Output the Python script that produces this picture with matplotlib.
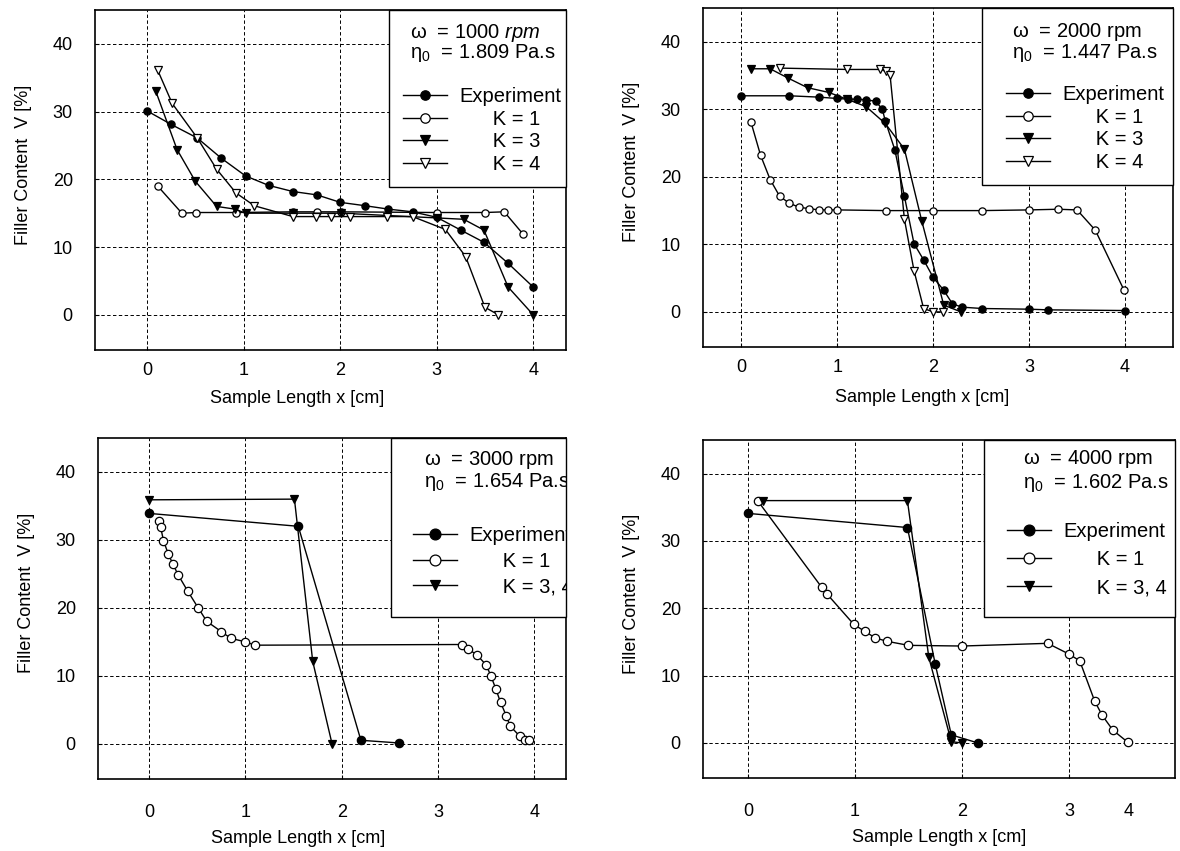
import matplotlib

matplotlib.use("Agg")
import matplotlib.pyplot as plt
from matplotlib.lines import Line2D
from matplotlib.patches import Rectangle

plt.rcParams["font.family"] = ["Liberation Sans", "DejaVu Sans"]
plt.rcParams["mathtext.fontset"] = "custom"
plt.rcParams["mathtext.rm"] = "Liberation Sans"
plt.rcParams["mathtext.it"] = "Liberation Sans:italic"

# ---- omega = 1000 rpm ----
exp_1000_x = [0, 0.25, 0.52, 0.77, 1.02, 1.26, 1.51, 1.76, 2.0, 2.26, 2.5, 2.75, 3.0, 3.25, 3.49, 3.74, 4.0]
exp_1000_y = [30.1, 28.1, 26.1, 23.1, 20.5, 19.1, 18.2, 17.7, 16.6, 16.1, 15.6, 15.2, 14.4, 12.5, 10.7, 7.6, 4.1]
k1_1000_x = [0.11, 0.36, 0.51, 0.92, 1.51, 1.76, 2.01, 3.0, 3.5, 3.7, 3.89]
k1_1000_y = [19.0, 15.0, 15.1, 15.1, 15.2, 15.2, 15.2, 15.1, 15.1, 15.2, 12.0]
k3_1000_x = [0.09, 0.31, 0.50, 0.72, 0.91, 1.02, 1.51, 2.01, 3.0, 3.28, 3.49, 3.74, 4.0]
k3_1000_y = [33.0, 24.4, 19.7, 16.0, 15.6, 15.0, 15.0, 15.0, 14.3, 14.1, 12.5, 4.1, 0.0]
k4_1000_x = [0.11, 0.26, 0.52, 0.72, 0.92, 1.11, 1.51, 1.75, 1.91, 2.10, 2.49, 2.75, 3.09, 3.30, 3.5, 3.64]
k4_1000_y = [36.1, 31.2, 26.1, 21.5, 18.0, 16.1, 14.5, 14.5, 14.5, 14.5, 14.5, 14.5, 12.6, 8.6, 1.1, 0.0]

# ---- omega = 2000 rpm ----
exp_2000_x = [0, 0.5, 0.81, 1.0, 1.11, 1.21, 1.30, 1.40, 1.47, 1.5, 1.60, 1.70, 1.80, 1.90, 2.0, 2.11,
              2.20, 2.30, 2.51, 3.0, 3.2, 4.0]
exp_2000_y = [32.0, 32.0, 31.8, 31.6, 31.5, 31.5, 31.4, 31.2, 30.0, 28.3, 24.0, 17.1, 10.1, 7.7, 5.1, 3.2,
              1.2, 0.7, 0.5, 0.4, 0.3, 0.2]
k1_2000_x = [0.10, 0.20, 0.30, 0.40, 0.50, 0.60, 0.70, 0.81, 0.90, 1.0, 1.51, 2.0, 2.51, 3.0, 3.30, 3.50, 3.69, 3.99]
k1_2000_y = [28.1, 23.2, 19.6, 17.1, 16.1, 15.5, 15.3, 15.1, 15.1, 15.1, 15.0, 15.0, 15.0, 15.1, 15.2, 15.1, 12.1, 3.2]
k3_2000_x = [0.10, 0.30, 0.49, 0.69, 0.91, 1.10, 1.30, 1.50, 1.70, 1.88, 2.11, 2.29]
k3_2000_y = [36.0, 36.0, 34.6, 33.2, 32.5, 31.5, 30.4, 27.9, 24.1, 13.5, 1.0, 0.0]
k4_2000_x = [0.40, 1.10, 1.45, 1.51, 1.55, 1.70, 1.80, 1.90, 2.0, 2.10]
k4_2000_y = [36.1, 35.9, 35.9, 35.6, 35.1, 13.7, 6.1, 0.5, 0.0, 0.0]

# ---- omega = 3000 rpm ----
exp_3000_x = [0, 1.55, 2.20, 2.60]
exp_3000_y = [33.9, 32.0, 0.5, 0.1]
k1_3000_x = [0.10, 0.12, 0.15, 0.20, 0.25, 0.30, 0.40, 0.51, 0.60, 0.75, 0.85, 1.0, 1.10,
             3.25, 3.31, 3.41, 3.50, 3.55, 3.60, 3.65, 3.71, 3.75, 3.85, 3.90, 3.95]
k1_3000_y = [32.8, 31.9, 29.9, 27.9, 26.4, 24.9, 22.5, 20.0, 18.0, 16.5, 15.5, 15.0, 14.5,
             14.6, 14.0, 13.0, 11.6, 10.0, 8.1, 6.1, 4.1, 2.6, 1.1, 0.5, 0.5]
k34_3000_x = [0, 1.51, 1.70, 1.90]
k34_3000_y = [35.9, 36.0, 12.1, 0.0]

# ---- omega = 4000 rpm ----
exp_4000_x = [0, 1.49, 1.75, 1.90, 2.15]
exp_4000_y = [34.1, 32.0, 11.7, 1.2, 0.0]
k1_4000_x = [0.09, 0.69, 0.74, 0.99, 1.09, 1.19, 1.30, 1.50, 2.0, 2.80, 3.0, 3.10, 3.24, 3.31, 3.41, 3.55]
k1_4000_y = [36.0, 23.1, 22.1, 17.6, 16.6, 15.6, 15.1, 14.5, 14.4, 14.8, 13.2, 12.2, 6.2, 4.1, 1.9, 0.1]
k34_4000_x = [0.14, 1.49, 1.69, 1.90, 2.0]
k34_4000_y = [36.0, 36.0, 12.7, 0.2, 0.0]

x_ticks = [0, 1, 2, 3, 4]
x_tick_labels = ["0", "1", "2", "3", "4"]
# last panel: the "4" label sits left of the frame edge, with no grid line under it
x_ticks_4000 = [0, 1, 2, 3, 3.56]
y_ticks = [0, 10, 20, 30, 40]

STYLE = {
    "exp": dict(marker="o", mfc="black"),
    "k1": dict(marker="o", mfc="white"),
    "k3": dict(marker="v", mfc="black"),
    "k4": dict(marker="v", mfc="white"),
}

W, H = 1180, 851
IND = "      "

PANELS = [
    dict(rect=(95, 10, 566, 350), xlim=(-0.54, 4.34), xt=x_ticks, xpad=9, xlab=(297, 40),
         omega=r"$\mathrm{\omega}$  = 1000 $\mathit{rpm}$", eta=r"$\mathrm{\eta}_0$  = 1.809 Pa.s",
         series=[("exp", exp_1000_x, exp_1000_y, "Experiment"),
                 ("k1", k1_1000_x, k1_1000_y, IND + "K = 1"),
                 ("k3", k3_1000_x, k3_1000_y, IND + "K = 3"),
                 ("k4", k4_1000_x, k4_1000_y, IND + "K = 4")],
         box=(389, 187), txt=(21, 23, 43), leg=(14, 77), spacing=0.18, ms=5.2),
    dict(rect=(703, 8, 1173, 347), xlim=(-0.40, 4.5), xt=x_ticks, xpad=9, xlab=(922, 42),
         omega=r"$\mathrm{\omega}$  = 2000 rpm", eta=r"$\mathrm{\eta}_0$  = 1.447 Pa.s",
         series=[("exp", exp_2000_x, exp_2000_y, "Experiment"),
                 ("k1", k1_2000_x, k1_2000_y, IND + "K = 1"),
                 ("k3", k3_2000_x, k3_2000_y, IND + "K = 3"),
                 ("k4", k4_2000_x, k4_2000_y, IND + "K = 4")],
         box=(982, 185), txt=(30, 24, 45), leg=(24, 77), spacing=0.18, ms=5.2),
    dict(rect=(98, 438, 566, 779), xlim=(-0.53, 4.33), xt=x_ticks, xpad=18, xlab=(298, 51),
         omega=r"$\mathrm{\omega}$  = 3000 rpm", eta=r"$\mathrm{\eta}_0$  = 1.654 Pa.s",
         series=[("exp", exp_3000_x, exp_3000_y, "Experiment"),
                 ("k1", k1_3000_x, k1_3000_y, IND + "K = 1"),
                 ("k3", k34_3000_x, k34_3000_y, IND + "K = 3, 4")],
         box=(391, 617), txt=(33, 22, 44), leg=(22, 88), spacing=0.33, ms=6.0),
    dict(rect=(703, 440, 1175, 778), xlim=(-0.42, 3.99), xt=x_ticks_4000, xpad=18, xlab=(939, 51),
         omega=r"$\mathrm{\omega}$  = 4000 rpm", eta=r"$\mathrm{\eta}_0$  = 1.602 Pa.s",
         series=[("exp", exp_4000_x, exp_4000_y, "Experiment"),
                 ("k1", k1_4000_x, k1_4000_y, IND + "K = 1"),
                 ("k3", k34_4000_x, k34_4000_y, IND + "K = 3, 4")],
         box=(984, 617), txt=(39, 19, 43), leg=(23, 82), spacing=0.45, ms=6.0),
]

fig = plt.figure(figsize=(W / 100, H / 100), dpi=100)
fig.patch.set_facecolor("white")

for p in PANELS:
    l, t, r, b = p["rect"]
    aw, ah = r - l, b - t
    ax = fig.add_axes((l / W, (H - b) / H, aw / W, ah / H))
    ax.set_xlim(*p["xlim"])
    ax.set_ylim(-5.2, 45)
    ax.set_xticks(p["xt"], x_tick_labels)
    ax.set_yticks(y_ticks)
    ax.tick_params(direction="in", length=3, width=0.8, labelsize=13, colors="black")
    ax.tick_params(axis="x", pad=p["xpad"])
    ax.tick_params(axis="y", pad=16)
    ax.set_axisbelow(True)
    ax.grid(True, color="black", linestyle=(0, (3.5, 2.5)), linewidth=0.7)
    if p["xt"] is x_ticks_4000:
        ax.xaxis.get_gridlines()[-1].set_visible(False)
        ax.xaxis.get_major_ticks()[-1].tick1line.set_visible(False)
    for sp in ax.spines.values():
        sp.set_linewidth(1.2)

    handles, labels = [], []
    for key, xs, ys, label in p["series"]:
        st = STYLE[key]
        ax.plot(xs, ys, color="black", linewidth=1.0, marker=st["marker"], markersize=p["ms"],
                markerfacecolor=st["mfc"], markeredgecolor="black", markeredgewidth=0.9, zorder=3)
        handles.append(Line2D([], [], color="black", linewidth=1.0, marker=st["marker"],
                              markersize=p["ms"] * 1.3, markerfacecolor=st["mfc"],
                              markeredgecolor="black", markeredgewidth=0.9))
        labels.append(label)

    ax.set_xlabel("Sample Length x [cm]", fontsize=13, va="top")
    lx, ly = p["xlab"]
    ax.xaxis.set_label_coords((lx - l) / aw, -ly / ah)
    ax.set_ylabel("Filler Content  V [%]", fontsize=13)
    ax.yaxis.set_label_coords(-63 / aw, 0.545)

    # legend box in the top-right corner
    bx, bb = p["box"]
    fx = (bx - l) / aw
    fy = (b - bb) / ah
    ax.add_patch(Rectangle((fx, fy), 1 - fx, 1 - fy, transform=ax.transAxes, facecolor="white",
                           edgecolor="black", linewidth=1.0, zorder=4, clip_on=False))
    tx, ty1, ty2 = p["txt"]
    for ty, s in ((ty1, p["omega"]), (ty2, p["eta"])):
        txt = ax.text(fx + tx / aw, 1 - ty / ah, s, transform=ax.transAxes, fontsize=14.5,
                      va="center", ha="left", zorder=5)
        txt.set_clip_box(ax.bbox)
        txt.set_clip_on(True)
    hx, hy = p["leg"]
    leg = ax.legend(handles, labels, loc="upper left", bbox_to_anchor=(fx + hx / aw, 1 - hy / ah),
                    frameon=False, fontsize=14.5, handlelength=2.2, handletextpad=0.6,
                    labelspacing=p["spacing"], borderpad=0, borderaxespad=0)
    leg.set_zorder(6)
    for txt in leg.get_texts():
        txt.set_clip_box(ax.bbox)
        txt.set_clip_on(True)

fig.savefig("out.png", dpi=100, facecolor="white")
